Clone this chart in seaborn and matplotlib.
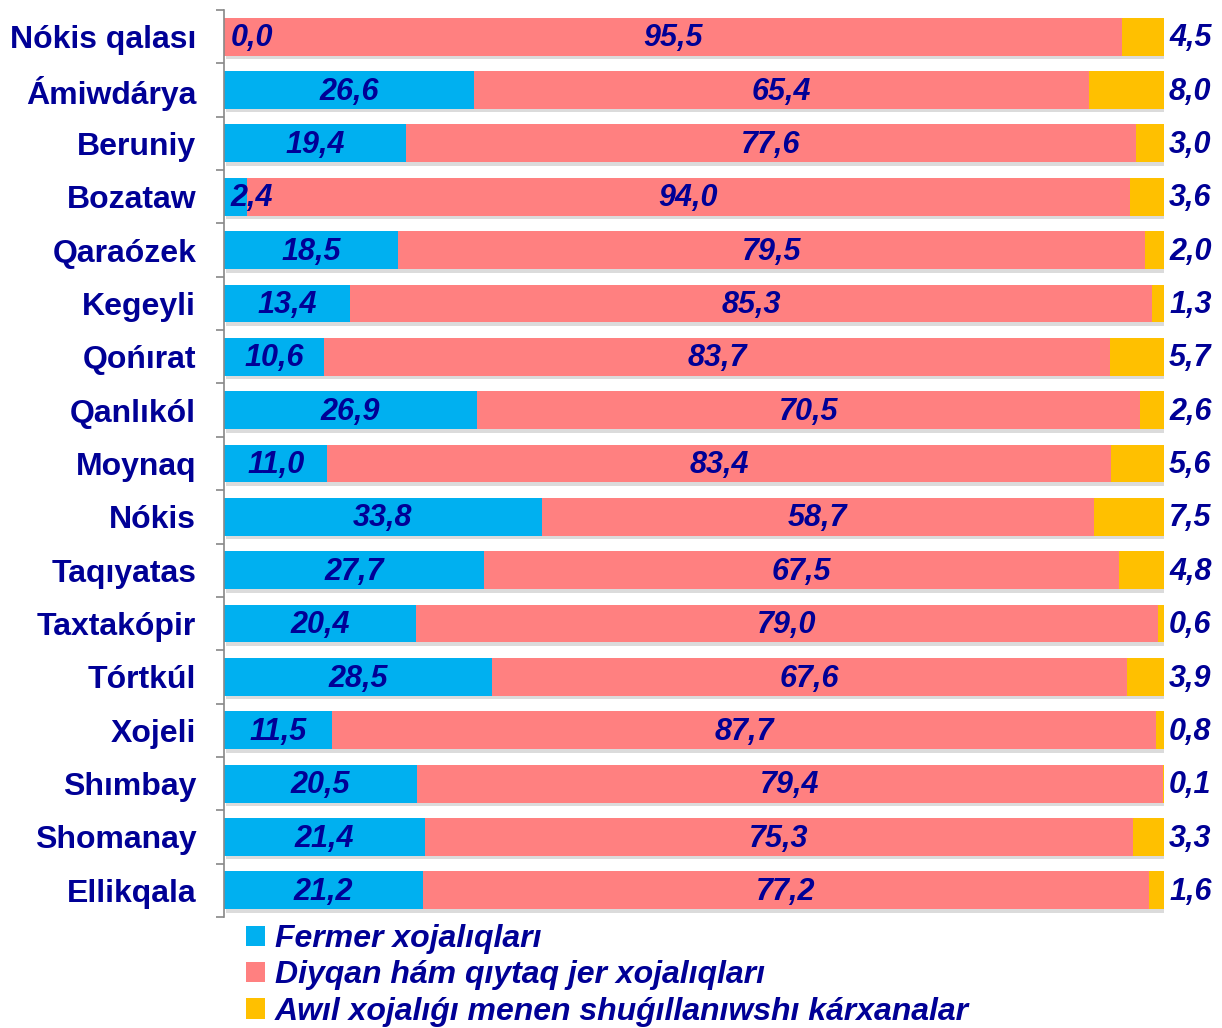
import matplotlib
matplotlib.use("Agg")
import matplotlib.pyplot as plt
import matplotlib.patheffects as pe
from matplotlib.patches import Patch
import numpy as np
import pandas as pd
import seaborn as sns

# Data (%)
districts = ['Nókis qalası', 'Ámiwdárya', 'Beruniy', 'Bozataw', 'Qaraózek', 'Kegeyli',
             'Qońırat', 'Qanlıkól', 'Moynaq', 'Nókis', 'Taqıyatas', 'Taxtakópir',
             'Tórtkúl', 'Xojeli', 'Shımbay', 'Shomanay', 'Ellikqala']
fermer = [0.0, 26.6, 19.4, 2.4, 18.5, 13.4, 10.6, 26.9, 11.0, 33.8, 27.7, 20.4,
          28.5, 11.5, 20.5, 21.4, 21.2]
diyqan = [95.5, 65.4, 77.6, 94.0, 79.5, 85.3, 83.7, 70.5, 83.4, 58.7, 67.5, 79.0,
          67.6, 87.7, 79.4, 75.3, 77.2]
karxana = [4.5, 8.0, 3.0, 3.6, 2.0, 1.3, 5.7, 2.6, 5.6, 7.5, 4.8, 0.6,
           3.9, 0.8, 0.1, 3.3, 1.6]
series_names = ['Fermer xojalıqları', 'Diyqan hám qıytaq jer xojalıqları',
                'Awıl xojalıǵı menen shuǵıllanıwshı kárxanalar']
colors = ['#00B0F0', '#FF8080', '#FFC000']
navy = '#000096'

df = pd.DataFrame({'district': districts, 'fermer': fermer,
                   'diyqan': diyqan, 'karxana': karxana})
df['c1'] = df['fermer']
df['c2'] = df['fermer'] + df['diyqan']
df['c3'] = df['c2'] + df['karxana']

sns.set_style('white')
plt.rcParams['font.family'] = ['Liberation Sans', 'DejaVu Sans']

fig = plt.figure(figsize=(12.22, 10.28), dpi=100)
ax = fig.add_axes([224 / 1222, 1 - 917 / 1028, 940 / 1222, 907 / 1028])

w = 0.71
# total bar (yellow) with shadow, then overlay salmon and blue
sns.barplot(data=df, x='c3', y='district', color=colors[2], width=w, orient='h',
            saturation=1, ax=ax, linewidth=0)
for p in ax.patches:
    p.set_path_effects([pe.SimplePatchShadow(offset=(1.5, -2.5), shadow_rgbFace='#999999', alpha=0.35),
                        pe.Normal()])
sns.barplot(data=df, x='c2', y='district', color=colors[1], width=w, orient='h',
            saturation=1, ax=ax, linewidth=0)
sns.barplot(data=df, x='c1', y='district', color=colors[0], width=w, orient='h',
            saturation=1, ax=ax, linewidth=0)

ax.set_xlim(0, 100)
ax.set_ylim(len(districts) - 0.5, -0.5)
ax.set_xlabel('')
ax.set_ylabel('')
ax.set_xticks([])

fmt = lambda v: f'{v:.1f}'.replace('.', ',')
tkw = dict(color=navy, fontsize=22, fontweight='bold', fontstyle='italic',
           va='center', ha='center')
for i, row in df.iterrows():
    xb = max(row['fermer'] / 2, 3.0)
    ax.text(xb, i + 0.03, fmt(row['fermer']), **tkw)
    ax.text(row['fermer'] + row['diyqan'] / 2, i + 0.03, fmt(row['diyqan']), **tkw)
    ax.text(102.8, i + 0.03, fmt(row['karxana']), clip_on=False, **tkw)

# axis styling
for s in ['top', 'right', 'bottom']:
    ax.spines[s].set_visible(False)
ax.spines['left'].set_color('#888888')
ax.spines['left'].set_linewidth(1.2)
ax.set_yticks(range(len(districts)))
ax.set_yticklabels(districts, fontsize=23, fontweight='bold', color=navy)
ax.set_yticks(np.arange(-0.5, len(districts), 1.0), minor=True)
ax.tick_params(axis='y', which='major', length=0, pad=20)
ax.tick_params(axis='y', which='minor', length=6, width=1.2, color='#888888', left=True)

handles = [Patch(facecolor=c, edgecolor='none') for c in colors]
fig.legend(handles, series_names, loc='upper left',
           bbox_to_anchor=(246 / 1222, 1 - 924 / 1028), frameon=False,
           borderaxespad=0, borderpad=0, handlelength=0.6, handleheight=0.6,
           handletextpad=0.3, labelspacing=0.2,
           prop=dict(family='Liberation Sans', size=23, weight='bold', style='italic'),
           labelcolor=navy)

fig.savefig('out.png', dpi=100)
